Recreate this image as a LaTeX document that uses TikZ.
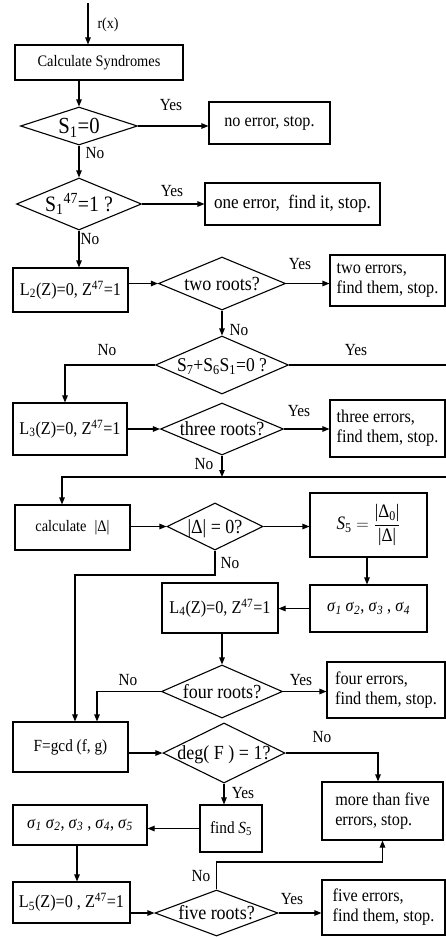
\documentclass[tikz,border=0pt]{standalone}
\usepackage{fontspec}
\setmainfont{Liberation Serif}[FakeStretch=0.9]
\usetikzlibrary{shapes.geometric,arrows.meta}
\newcommand\zt[1]{\makebox[0pt]{\raisebox{-0.33em}[0pt][0pt]{#1}}}
\newcommand\fs[2]{\fontsize{#1}{#2}\selectfont}
\newcommand\sg[1]{\textit{σ}\textsubscript{\textit{#1}}}
\tikzset{
  box/.style={draw, line width=1.1pt, inner sep=2pt, font=\fs{18}{20}, align=left},
  dia/.style={draw, diamond, line width=1.1pt, inner sep=0pt, font=\fs{20}{22}},
  lbl/.style={font=\fs{17}{19}, inner sep=0pt},
  arr/.style={line width=1.1pt, -{Triangle[length=7pt,width=5.5pt]}},
  ln/.style={line width=1.1pt},
}
\begin{document}
\begin{tikzpicture}[x=1pt,y=-1pt]
\useasboundingbox (0,0) rectangle (446,937);

% nodes
\node[box, minimum width=168pt, minimum height=35pt, font=\fs{16}{18}] (calcS) at (99,62.5) {Calculate Syndromes};
\node[dia, minimum width=117pt, minimum height=38pt, font=\fs{23}{25}] (d1) at (79,126) {\zt{S\textsubscript{1}=0}};
\node[box, minimum width=121pt, minimum height=42pt] (stop0) at (269.5,123) {no error, stop.};
\node[dia, minimum width=125pt, minimum height=52pt, font=\fs{22}{24}] (d2) at (79,204) {\zt{S\textsubscript{1}\textsuperscript{47}=1 ?}};
\node[box, minimum width=175pt, minimum height=42pt, font=\fs{19}{21}] (stop1) at (292.5,204) {one error,\ \ find it, stop.};
\node[box, minimum width=115pt, minimum height=44pt] (L2) at (70.5,290) {L\textsubscript{2}(Z)=0,\ Z\textsuperscript{47}=1};
\node[dia, minimum width=127pt, minimum height=53pt] (d3) at (222,283.5) {\zt{two roots?}};
\node[box, minimum width=115pt, minimum height=51pt] (stop2) at (387.5,280.5) {two errors,\\find them, stop.};
\node[dia, minimum width=133pt, minimum height=58pt, font=\fs{19.5}{21}] (d4) at (222,365) {\zt{S\textsubscript{7}+S\textsubscript{6}S\textsubscript{1}=0 ?}};
\node[box, minimum width=114pt, minimum height=52pt] (L3) at (70,429) {L\textsubscript{3}(Z)=0,\ Z\textsuperscript{47}=1};
\node[dia, minimum width=123pt, minimum height=52pt] (d5) at (222,429) {\zt{three roots?}};
\node[box, minimum width=115pt, minimum height=57pt] (stop3) at (387.5,428.5) {three errors,\\find them, stop.};
\node[box, minimum width=115pt, minimum height=45pt, font=\fs{16}{18}] (calcD) at (72.5,527.5) {calculate\enspace|Δ|};
\node[dia, minimum width=96pt, minimum height=47pt] (d6) at (215,526.5) {\zt{|Δ| = 0?}};
\node[box, minimum width=117pt, minimum height=64pt, font=\fs{19}{21}] (S5b) at (368.5,525) {$\mbox{\textit{S}\textsubscript{5}} = \displaystyle\frac{\mbox{|Δ\textsubscript{0}|}}{\mbox{|Δ|}}$};
\node[box, minimum width=117pt, minimum height=47pt] (sig4) at (368.5,608.5) {\sg1\ \sg2, \sg3 , \sg4};
\node[box, minimum width=116pt, minimum height=50pt] (L4) at (220,608) {L\textsubscript{4}(Z)=0,\ Z\textsuperscript{47}=1};
\node[dia, minimum width=121pt, minimum height=53pt] (d7) at (222,691.5) {\zt{four roots?}};
\node[box, minimum width=118pt, minimum height=56pt] (stop4) at (386,690) {four errors,\\find them, stop.};
\node[box, minimum width=115pt, minimum height=50pt, font=\fs{17}{19}] (Fgcd) at (70.5,747) {F=gcd (f, g)};
\node[dia, minimum width=122pt, minimum height=60pt] (d8) at (224,753) {\zt{deg( F ) = 1?}};
\node[box, minimum width=121pt, minimum height=58pt] (more5) at (382.5,811) {more than five\\errors, stop.};
\node[box, minimum width=62pt, minimum height=47pt, font=\fs{17}{19}] (findS5) at (231,828.5) {find \textit{S}\textsubscript{5}};
\node[box, minimum width=134pt, minimum height=40pt] (sig5) at (80,825) {\sg1\ \sg2, \sg3 , \sg4, \sg5};
\node[box, minimum width=117pt, minimum height=41pt] (L5) at (71.5,902.5) {L\textsubscript{5}(Z)=0 , Z\textsuperscript{47}=1};
\node[dia, minimum width=123pt, minimum height=46pt] (d9) at (216.5,913) {\zt{five roots?}};
\node[box, minimum width=123pt, minimum height=55pt] (stop5) at (383.5,907.5) {five errors,\\find them, stop.};

% coordinates
\coordinate (in) at (88,3);
\coordinate (jL) at (62,477);
\coordinate (jR) at (470,477);
\coordinate (kL) at (75,575);
\coordinate (kM) at (97,691.5);
\coordinate (kN) at (382.5,862);

% connectors
\draw[arr] (in) -- (in |- calcS.north);
\draw[arr] (d1.north |- calcS.south) -- (d1.north);
\draw[arr] (d1.east) -- (stop0.west |- d1.east);
\draw[arr] (d1.south) -- (d2.north);
\draw[arr] (d2.east) -- (stop1.west);
\draw[arr] (d2.south) -- (d2.south |- L2.north);
\draw[arr] (L2.east |- d3.west) -- (d3.west);
\draw[arr] (d3.east) -- (stop2.west |- d3.east);
\draw[arr] (d3.south) -- (d4.north);
\draw[arr] (d4.west) -| ([xshift=-5pt]L3.north);
\draw[arr] (d4.east) -- (d4.east -| jR) -- (jR) -- (jL) -- (jL |- calcD.north);
\draw[arr] (L3.east |- d5.west) -- (d5.west);
\draw[arr] (d5.east) -- (stop3.west |- d5.east);
\draw[arr] (d5.south) -- (d5.south |- jL);
\draw[arr] (calcD.east |- d6.west) -- (d6.west);
\draw[arr] (d6.east) -- (S5b.west |- d6.east);
\draw[arr] (d6.south) |- (kL) -- (kL |- Fgcd.north);
\draw[arr] ([xshift=-1.5pt]S5b.south) -- ([xshift=-1.5pt]sig4.north);
\draw[arr] (sig4.west) -- (L4.east |- sig4.west);
\draw[arr] (d7.north |- L4.south) -- (d7.north);
\draw[arr] (d7.east) -- (stop4.west |- d7.east);
\draw[arr] (d7.west) -- (kM) -- (kM |- Fgcd.north);
\draw[arr] (Fgcd.east |- d8.west) -- (d8.west);
\draw[arr] (d8.east) -| ([xshift=-4.5pt]more5.north);
\draw[arr] (d8.south) -- (d8.south |- findS5.north);
\draw[arr] (findS5.west) -- (sig5.east |- findS5.west);
\draw[arr] ([xshift=-3pt]sig5.south) -- ([xshift=-3pt]sig5.south |- L5.north);
\draw[arr] (L5.east |- d9.west) -- (d9.west);
\draw[arr] (d9.east) -- (stop5.west |- d9.east);
\draw[arr] (d9.north) |- (kN) -- (more5.south);

% labels
\node[lbl, font=\fs{15.5}{17}] (rx) at (108,25) {r(x)};
\node[lbl] (y1) at (171,105) {Yes};
\node[lbl] (n1) at (95,153) {No};
\node[lbl] (y2) at (172,191) {Yes};
\node[lbl] (n2) at (90,239) {No};
\node[lbl] (y3) at (300,264) {Yes};
\node[lbl] (n3) at (239,330) {No};
\node[lbl] (n4) at (107,350) {No};
\node[lbl] (y4) at (356,350) {Yes};
\node[lbl] (y5) at (299,411) {Yes};
\node[lbl] (n5) at (204,464) {No};
\node[lbl] (n6) at (230,563) {No};
\node[lbl] (y7) at (301,680) {Yes};
\node[lbl] (n7) at (128,680) {No};
\node[lbl] (n8) at (322,737) {No};
\node[lbl] (y8) at (243,793) {Yes};
\node[lbl] (n9) at (201,876) {No};
\node[lbl] (y9) at (292,899) {Yes};
\end{tikzpicture}
\end{document}
